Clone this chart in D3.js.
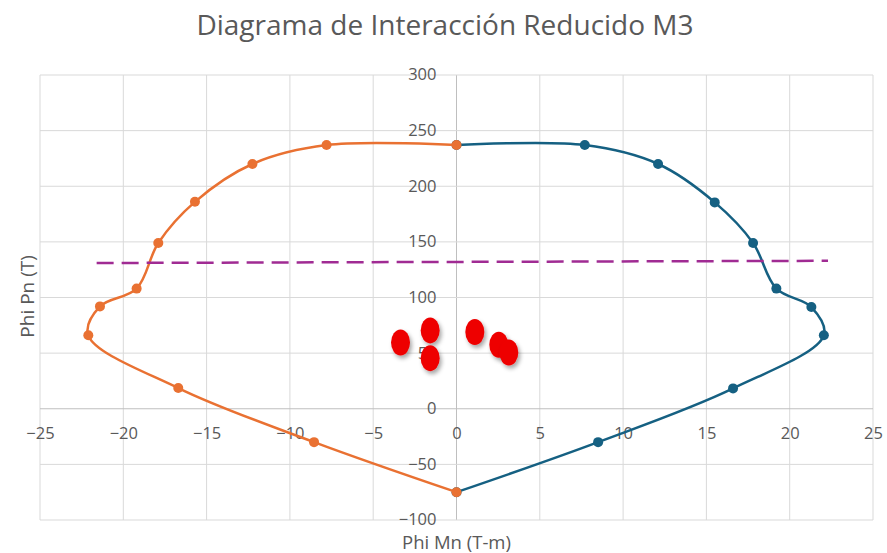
<!DOCTYPE html>
<html>
<head>
<meta charset="utf-8">
<script src="https://cdn.jsdelivr.net/npm/d3@7"></script>
<style>
  body { margin: 0; background: #fff; }
  text { font-family: "Open Sans", sans-serif; fill: #595959; }
</style>
</head>
<body>
<div id="chart"></div>
<script>
var width = 887;
var height = 553;

// curva izquierda (naranja)
var leftMn = [0, -7.8, -12.25, -15.7, -17.9, -19.2, -21.4, -22.1, -16.7, -8.55, 0];
var leftPn = [237, 237, 220, 186, 149, 108, 92, 66, 18.6, -30, -75];

// curva derecha (azul)
var rightMn = [0, 7.7, 12.1, 15.5, 17.8, 19.2, 21.3, 22.05, 16.6, 8.5, 0];
var rightPn = [237, 237, 220, 185.5, 149, 108, 91.4, 66, 18.3, -30, -75];

// linea de carga
var limitMn = [-21.6, 22.3];
var limitPn = [131, 133];

// cargas
var loadMn = [-3.36, -1.58, -1.58, 1.1, 2.54, 3.14];
var loadPn = [59.6, 70.4, 45.5, 69, 57.5, 50.6];

var xTicks = [-25, -20, -15, -10, -5, 0, 5, 10, 15, 20, 25];
var yTicks = [-100, -50, 0, 50, 100, 150, 200, 250, 300];

var margin = { top: 75, right: 14, bottom: 33, left: 40 };

var svg = d3.select("#chart")
  .append("svg")
  .attr("width", width)
  .attr("height", height);

var defs = svg.append("defs");
var shadow = defs.append("filter").attr("id", "shadow")
  .attr("x", "-50%").attr("y", "-50%").attr("width", "200%").attr("height", "200%");
shadow.append("feDropShadow")
  .attr("dx", 2).attr("dy", 3).attr("stdDeviation", 2)
  .attr("flood-color", "#000").attr("flood-opacity", 0.35);

var xScale = d3.scaleLinear()
  .domain([-25, 25])
  .range([margin.left, width - margin.right]);

var yScale = d3.scaleLinear()
  .domain([-100, 300])
  .range([height - margin.bottom, margin.top]);

// grid
svg.append("g")
  .selectAll("line")
  .data(xTicks)
  .enter()
  .append("line")
  .attr("x1", d => xScale(d)).attr("x2", d => xScale(d))
  .attr("y1", yScale(300)).attr("y2", yScale(-100))
  .attr("stroke", d => d === 0 ? "#bfbfbf" : "#d9d9d9")
  .attr("stroke-width", 1);

svg.append("g")
  .selectAll("line")
  .data(yTicks)
  .enter()
  .append("line")
  .attr("x1", xScale(-25)).attr("x2", xScale(25))
  .attr("y1", d => yScale(d)).attr("y2", d => yScale(d))
  .attr("stroke", d => d === 0 ? "#bfbfbf" : "#d9d9d9")
  .attr("stroke-width", 1);

// ejes
var xAxis = d3.axisBottom(xScale).tickValues(xTicks).tickSize(0).tickPadding(19);
var yAxis = d3.axisLeft(yScale).tickValues(yTicks).tickSize(0).tickPadding(20);

var gx = svg.append("g")
  .attr("transform", "translate(0," + yScale(0) + ")")
  .call(xAxis);
gx.select(".domain").remove();
gx.selectAll("text").style("font-size", "16.5px").attr("fill", "#595959");

var gy = svg.append("g")
  .attr("transform", "translate(" + xScale(0) + ",0)")
  .call(yAxis);
gy.select(".domain").remove();
gy.selectAll("text").style("font-size", "16.5px").attr("fill", "#595959")
  .attr("dy", "0.3em");

var line = d3.line()
  .x(d => xScale(d[0]))
  .y(d => yScale(d[1]))
  .curve(d3.curveCatmullRom.alpha(0.5));

var series = [
  { mn: rightMn, pn: rightPn, color: "#156082" },
  { mn: leftMn, pn: leftPn, color: "#E97132" }
];

series.forEach(function(s) {
  var pts = s.mn.map((m, i) => [m, s.pn[i]]);
  svg.append("path")
    .datum(pts)
    .attr("d", line)
    .attr("fill", "none")
    .attr("stroke", s.color)
    .attr("stroke-width", 2.5);
  svg.append("g")
    .selectAll("circle")
    .data(pts)
    .enter()
    .append("circle")
    .attr("cx", d => xScale(d[0]))
    .attr("cy", d => yScale(d[1]))
    .attr("r", 5)
    .attr("fill", s.color);
});

// linea discontinua
svg.append("path")
  .datum(limitMn.map((m, i) => [m, limitPn[i]]))
  .attr("d", d3.line().x(d => xScale(d[0])).y(d => yScale(d[1])))
  .attr("fill", "none")
  .attr("stroke", "#A02B93")
  .attr("stroke-width", 2.5)
  .attr("stroke-dasharray", "17,8");

// puntos de carga
svg.append("g")
  .selectAll("ellipse")
  .data(loadMn.map((m, i) => [m, loadPn[i]]))
  .enter()
  .append("ellipse")
  .attr("cx", d => xScale(d[0]))
  .attr("cy", d => yScale(d[1]))
  .attr("rx", 9.5)
  .attr("ry", 13)
  .attr("fill", "#ee0000")
  .attr("filter", "url(#shadow)");

// titulos
svg.append("text")
  .text("Diagrama de Interacción Reducido M3")
  .attr("x", 445)
  .attr("y", 35)
  .style("font-size", "28px")
  .style("text-anchor", "middle");

svg.append("text")
  .text("Phi Mn (T-m)")
  .attr("x", xScale(0))
  .attr("y", 549)
  .style("font-size", "18.5px")
  .style("text-anchor", "middle");

svg.append("text")
  .text("Phi Pn (T)")
  .attr("transform", "translate(34," + yScale(101) + ") rotate(-90)")
  .style("font-size", "19px")
  .style("text-anchor", "middle");
</script>
</body>
</html>
